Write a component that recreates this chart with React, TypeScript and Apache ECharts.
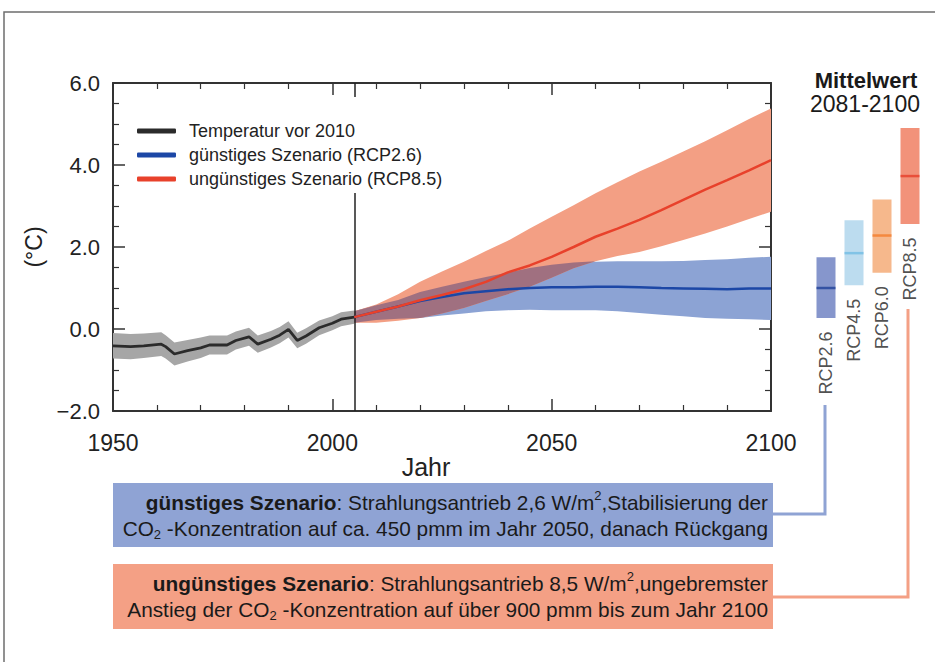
import React, { useEffect, useRef } from 'react';
import * as echarts from 'echarts';

const FONT = 'Liberation Sans, Arial, sans-serif';

// Observed temperature (before 2010)
const tempYears = [1950, 1954, 1957, 1961, 1962, 1964, 1967, 1970, 1972, 1976, 1978, 1981, 1983, 1986, 1988, 1990, 1992, 1994, 1997, 2000, 2002, 2005];
const tempMean = [-0.41, -0.43, -0.41, -0.37, -0.43, -0.61, -0.53, -0.46, -0.39, -0.39, -0.28, -0.19, -0.37, -0.25, -0.15, -0.01, -0.28, -0.17, 0.03, 0.14, 0.24, 0.29];
const tempLow = [-0.72, -0.74, -0.71, -0.66, -0.72, -0.89, -0.79, -0.71, -0.62, -0.62, -0.5, -0.41, -0.58, -0.45, -0.35, -0.21, -0.47, -0.36, -0.15, -0.03, 0.07, 0.13];
const tempHigh = [-0.1, -0.12, -0.11, -0.08, -0.15, -0.33, -0.27, -0.21, -0.16, -0.16, -0.06, 0.03, -0.16, -0.05, 0.05, 0.19, -0.09, 0.02, 0.21, 0.31, 0.41, 0.45];

// Projections
const projYears = [2005, 2010, 2015, 2020, 2025, 2030, 2035, 2040, 2045, 2050, 2055, 2060, 2065, 2070, 2075, 2080, 2085, 2090, 2095, 2100];
const rcp26Mean = [0.29, 0.42, 0.55, 0.68, 0.78, 0.87, 0.92, 0.97, 1.0, 1.02, 1.02, 1.03, 1.03, 1.02, 1.0, 0.99, 0.98, 0.97, 0.99, 0.99];
const rcp26Low = [0.15, 0.22, 0.25, 0.27, 0.33, 0.38, 0.43, 0.46, 0.47, 0.46, 0.46, 0.46, 0.43, 0.39, 0.35, 0.31, 0.27, 0.25, 0.24, 0.22];
const rcp26High = [0.43, 0.58, 0.71, 0.9, 1.03, 1.15, 1.27, 1.38, 1.49, 1.57, 1.62, 1.64, 1.65, 1.65, 1.65, 1.66, 1.68, 1.7, 1.74, 1.76];
const rcp85Mean = [0.29, 0.42, 0.55, 0.7, 0.83, 0.97, 1.15, 1.38, 1.55, 1.76, 2.0, 2.25, 2.45, 2.66, 2.9, 3.15, 3.4, 3.63, 3.87, 4.12];
const rcp85Low = [0.15, 0.15, 0.2, 0.27, 0.38, 0.51, 0.68, 0.85, 1.03, 1.25, 1.48, 1.65, 1.78, 1.88, 2.02, 2.17, 2.33, 2.5, 2.68, 2.86];
const rcp85High = [0.43, 0.6, 0.85, 1.15, 1.4, 1.64, 1.9, 2.15, 2.45, 2.74, 3.02, 3.31, 3.58, 3.84, 4.08, 4.33, 4.58, 4.85, 5.12, 5.38];

// Mean 2081-2100
const scenarioNames = ['RCP2.6', 'RCP4.5', 'RCP6.0', 'RCP8.5'];
const scenarioLow = [0.27, 1.07, 1.37, 2.56];
const scenarioMean = [1.0, 1.85, 2.28, 3.73];
const scenarioHigh = [1.75, 2.65, 3.16, 4.9];

const legendNames = ['Temperatur vor 2010', 'günstiges Szenario (RCP2.6)', 'ungünstiges Szenario (RCP8.5)'];

const barColors = ['#8696cc', '#bcdcef', '#f6b88c', '#f2927a'];
const meanColors = ['#1f4199', '#72bde3', '#f47d2c', '#e63f2a'];

function band(xs: number[], lo: number[], hi: number[], color: string, z: number) {
  return {
    type: 'custom',
    xAxisIndex: 0,
    yAxisIndex: 0,
    silent: true,
    z,
    data: [[xs[0], lo[0]]],
    renderItem: (_params: any, api: any) => {
      const top = xs.map((x, i) => api.coord([x, hi[i]]));
      const bot = xs.map((x, i) => api.coord([x, lo[i]])).reverse();
      return { type: 'polygon', shape: { points: top.concat(bot) }, style: { fill: color } };
    },
  };
}

export default function App() {
  const ref = useRef<HTMLDivElement>(null);
  useEffect(() => {
    if (!ref.current) return;
    const chart = echarts.init(ref.current, undefined, { renderer: 'svg' });

    const overlapLow = projYears.map((_, i) => Math.max(rcp26Low[i], rcp85Low[i]));
    const overlapHigh = projYears.map((_, i) => Math.max(overlapLow[i], Math.min(rcp26High[i], rcp85High[i])));

    const axisColor = '#333';
    const baseX = {
      type: 'value',
      gridIndex: 0,
      min: 1950,
      max: 2100,
      interval: 50,
      axisLine: { show: true, onZero: false, lineStyle: { color: axisColor, width: 2 } },
      axisTick: { show: true, inside: true, length: 12, lineStyle: { color: axisColor, width: 1.5 } },
      minorTick: { show: true, splitNumber: 5, length: 6, lineStyle: { color: axisColor, width: 1.2 } },
      splitLine: { show: false },
      minorSplitLine: { show: false },
    };
    const baseY = {
      type: 'value',
      gridIndex: 0,
      min: -2,
      max: 6,
      interval: 2,
      axisLine: { show: true, onZero: false, lineStyle: { color: axisColor, width: 2 } },
      axisTick: { show: true, inside: true, length: 12, lineStyle: { color: axisColor, width: 1.5 } },
      minorTick: { show: true, splitNumber: 4, length: 6, lineStyle: { color: axisColor, width: 1.2 } },
      splitLine: { show: false },
      minorSplitLine: { show: false },
    };

    const richStyles = {
      b: { fontWeight: 'bold', fontSize: 20.8, fontFamily: FONT, fill: '#1a1a1a', lineHeight: 26 },
      sup: { fontSize: 13, verticalAlign: 'top', lineHeight: 19, fontFamily: FONT, fill: '#1a1a1a' },
      sub: { fontSize: 13, verticalAlign: 'bottom', lineHeight: 19, fontFamily: FONT, fill: '#1a1a1a' },
    };

    const option: any = {
      animation: false,
      backgroundColor: '#ffffff',
      textStyle: { fontFamily: FONT },
      grid: [
        { left: 113, top: 83, width: 658, bottom: 251, containLabel: false },
        { left: 812, top: 83, width: 112, bottom: 251, containLabel: false },
      ],
      legend: {
        data: legendNames,
        orient: 'vertical',
        left: 129,
        top: 97,
        z: 20,
        padding: [25, 14, 5, 8],
        backgroundColor: '#ffffff',
        icon: 'roundRect',
        itemWidth: 39,
        itemHeight: 5,
        itemGap: 6,
        selectedMode: false,
        textStyle: { fontSize: 18, color: '#222', fontFamily: FONT, padding: [0, 0, 0, 8] },
      },
      xAxis: [
        {
          ...baseX,
          position: 'bottom',
          axisLabel: { show: true, fontSize: 23, color: '#222', margin: 20, fontFamily: FONT, formatter: (v: number) => String(v) },
          name: 'Jahr',
          nameLocation: 'middle',
          nameGap: 33,
          nameTextStyle: { fontSize: 25, color: '#222', fontFamily: FONT, padding: [0, 32, 0, 0] },
        },
        { ...baseX, position: 'top', axisLabel: { show: false } },
        { type: 'category', gridIndex: 1, data: scenarioNames, show: false },
      ],
      yAxis: [
        {
          ...baseY,
          position: 'left',
          axisLabel: {
            show: true,
            fontSize: 22,
            color: '#222',
            margin: 13,
            fontFamily: FONT,
            formatter: (v: number) => (v < 0 ? '\u2212' + Math.abs(v).toFixed(1) : v.toFixed(1)),
          },
          name: '(°C)',
          nameLocation: 'middle',
          nameGap: 52,
          nameRotate: 90,
          nameTextStyle: { fontSize: 23, color: '#222', fontFamily: FONT },
        },
        { ...baseY, position: 'right', axisLabel: { show: false } },
        { type: 'value', gridIndex: 1, min: -2, max: 6, show: false },
      ],
      series: [
        band(tempYears, tempLow, tempHigh, '#a6a6a6', 1),
        band(projYears, rcp26Low, rcp26High, '#8ca3d4', 2),
        band(projYears, rcp85Low, rcp85High, '#f39f84', 3),
        band(projYears, overlapLow, overlapHigh, '#a07080', 4),
        {
          name: legendNames[0],
          type: 'line',
          xAxisIndex: 0,
          yAxisIndex: 0,
          z: 6,
          showSymbol: false,
          color: '#2b2b2b',
          itemStyle: { color: '#2b2b2b' },
          lineStyle: { color: '#2b2b2b', width: 2.8 },
          data: tempYears.map((y, i) => [y, tempMean[i]]),
          markLine: {
            silent: true,
            symbol: 'none',
            label: { show: false },
            lineStyle: { color: '#222', width: 1.5, type: 'solid' },
            data: [{ xAxis: 2005 }],
          },
        },
        {
          name: legendNames[1],
          type: 'line',
          xAxisIndex: 0,
          yAxisIndex: 0,
          z: 6,
          showSymbol: false,
          color: '#1c47a6',
          itemStyle: { color: '#1c47a6' },
          lineStyle: { color: '#1c47a6', width: 2.5 },
          data: projYears.map((y, i) => [y, rcp26Mean[i]]),
        },
        {
          name: legendNames[2],
          type: 'line',
          xAxisIndex: 0,
          yAxisIndex: 0,
          z: 7,
          showSymbol: false,
          color: '#e8412b',
          itemStyle: { color: '#e8412b' },
          lineStyle: { color: '#e8412b', width: 2.5 },
          data: projYears.map((y, i) => [y, rcp85Mean[i]]),
        },
        {
          type: 'bar',
          xAxisIndex: 2,
          yAxisIndex: 2,
          stack: 'range',
          barWidth: 19,
          silent: true,
          itemStyle: { color: 'rgba(0,0,0,0)' },
          data: scenarioLow,
        },
        {
          type: 'bar',
          xAxisIndex: 2,
          yAxisIndex: 2,
          stack: 'range',
          barWidth: 19,
          silent: true,
          data: scenarioHigh.map((h, i) => ({ value: +(h - scenarioLow[i]).toFixed(2), itemStyle: { color: barColors[i] } })),
        },
        {
          type: 'scatter',
          xAxisIndex: 2,
          yAxisIndex: 2,
          symbol: 'rect',
          symbolSize: [19, 2.5],
          silent: true,
          z: 5,
          data: scenarioMean.map((m, i) => ({ value: [scenarioNames[i], m], itemStyle: { color: meanColors[i] } })),
        },
        {
          type: 'scatter',
          xAxisIndex: 2,
          yAxisIndex: 2,
          symbolSize: 1,
          silent: true,
          itemStyle: { color: 'rgba(0,0,0,0)' },
          label: {
            show: true,
            formatter: '{b}',
            position: 'bottom',
            distance: 13,
            rotate: 90,
            align: 'right',
            verticalAlign: 'middle',
            fontSize: 18,
            color: '#222',
            fontFamily: FONT,
          },
          data: scenarioLow.map((l, i) => ({ name: scenarioNames[i], value: [scenarioNames[i], l] })),
        },
      ],
      graphic: [
        { type: 'rect', z: -10, shape: { x: 4, y: 12, width: 1000, height: 700 }, style: { fill: 'none', stroke: '#6e6e6e', lineWidth: 1.5 } },
        { type: 'text', style: { x: 866, y: 80, text: 'Mittelwert', align: 'center', verticalAlign: 'middle', fontSize: 22, fontWeight: 'bold', fontFamily: FONT, fill: '#1a1a1a' } },
        { type: 'text', style: { x: 865, y: 104, text: '2081-2100', align: 'center', verticalAlign: 'middle', fontSize: 23, fontFamily: FONT, fill: '#1a1a1a' } },
        { type: 'rect', shape: { x: 113, y: 483, width: 660, height: 64 }, style: { fill: '#8fa3d4' } },
        { type: 'rect', shape: { x: 113, y: 564, width: 660, height: 65 }, style: { fill: '#f4a085' } },
        { type: 'polyline', shape: { points: [[825, 405], [825, 514], [773, 514]] }, style: { stroke: '#8fa3d4', lineWidth: 3, fill: 'none' } },
        { type: 'polyline', shape: { points: [[908, 309], [908, 597], [773, 597]] }, style: { stroke: '#f4a085', lineWidth: 3, fill: 'none' } },
        {
          type: 'text',
          style: {
            x: 768,
            y: 515,
            align: 'right',
            verticalAlign: 'middle',
            fontSize: 20.8,
            lineHeight: 26,
            fontFamily: FONT,
            fill: '#1a1a1a',
            text: '{b|günstiges Szenario}: Strahlungsantrieb 2,6 W/m{sup|2},Stabilisierung der\nCO{sub|2} -Konzentration auf ca. 450 pmm im Jahr 2050, danach Rückgang',
            rich: richStyles,
          },
        },
        {
          type: 'text',
          style: {
            x: 768,
            y: 596,
            align: 'right',
            verticalAlign: 'middle',
            fontSize: 20.8,
            lineHeight: 26,
            fontFamily: FONT,
            fill: '#1a1a1a',
            text: '{b|ungünstiges Szenario}: Strahlungsantrieb 8,5 W/m{sup|2},ungebremster\nAnstieg der CO{sub|2} -Konzentration auf über 900 pmm bis zum Jahr 2100',
            rich: richStyles,
          },
        },
      ],
    };

    chart.setOption(option);
    return () => chart.dispose();
  }, []);

  return <div ref={ref} style={{ position: 'fixed', left: 0, top: 0, width: 935, height: 662 }} />;
}
